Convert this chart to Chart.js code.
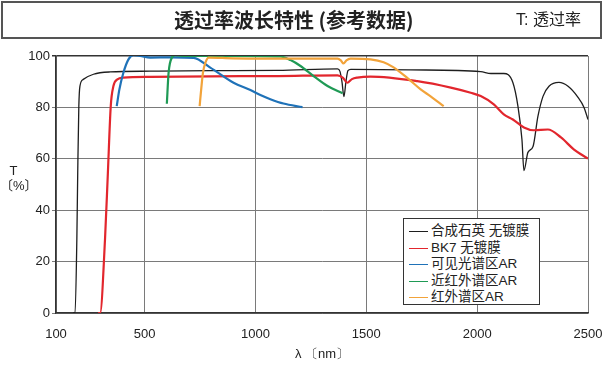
<!DOCTYPE html>
<html>
<head>
<meta charset="utf-8">
<script src="https://cdn.jsdelivr.net/npm/chart.js@4.4.1/dist/chart.umd.min.js"></script>
<style>
  body { margin: 0; background: #fff; }
  #wrap { position: relative; width: 603px; height: 366px; font-family: "Liberation Sans", "Noto Sans CJK SC", sans-serif; color: #222; }
  #titleBox { position: absolute; left: 1px; top: 1px; width: 597px; height: 34px; border: 2px solid #555; }
  #title { position: absolute; left: 171px; top: 3px; font-family: "Noto Sans CJK SC", sans-serif; font-weight: bold; font-size: 20px; line-height: 28px; color: #222; white-space: nowrap; }
  #unit { position: absolute; left: 513px; top: 5px; font-size: 16px; line-height: 24px; white-space: nowrap; }
  #yTitle { position: absolute; left: 0; top: 163px; width: 27px; text-align: center; font-size: 13px; line-height: 15px; }
  #legend { position: absolute; left: 403px; top: 218px; width: 135px; height: 85px; border: 1px solid #333; background: #fff; font-size: 13.5px; }
  .row { position: absolute; left: 0; height: 16px; line-height: 16px; white-space: nowrap; }
  .row i { position: absolute; left: 5px; top: 8px; width: 19px; height: 0; border-top: 1.5px solid; }
  .row span { position: absolute; left: 27px; top: 0; }
  canvas { position: absolute; left: 0; top: 0; }
</style>
</head>
<body>
<div id="wrap">
  <canvas id="grafico" width="603" height="366"></canvas>
  <div id="titleBox">
    <div id="title">透过率波长特性 (参考数据)</div>
    <div id="unit">T: 透过率</div>
  </div>
  <div id="yTitle">T<br>〔%〕</div>
  <div id="legend"></div>
</div>
<script>
// ejes
const xTicks = [100, 500, 1000, 1500, 2000, 2500];
const yTicks = [0, 20, 40, 60, 80, 100];

// series (longitud de onda nm / transmitancia %)
const nombres = ['合成石英 无镀膜', 'BK7 无镀膜', '可见光谱区AR', '近红外谱区AR', '红外谱区AR'];
const colores = ['#1e1e1e', '#e2262d', '#1f72b8', '#1f9a55', '#f2a33a'];

const cuarzoNm = [177, 186, 194, 198, 203, 208, 223, 269, 344, 525, 800, 1100, 1370, 1381, 1390, 1399, 1408, 1417, 1430, 1700, 2016, 2062, 2120, 2161, 2184, 2202, 2211, 2229, 2252, 2274, 2297, 2324, 2369, 2410, 2455, 2482, 2500];
const cuarzoT = [0, 0, 28.5, 54.6, 80.5, 88.3, 90.9, 92.9, 93.8, 94.1, 94.3, 94.4, 95, 94, 90, 84.2, 90, 94.3, 94.8, 94.6, 93.9, 93.2, 93.2, 89.7, 80.4, 67.5, 55.4, 62.5, 64.8, 76.5, 84.3, 88.2, 89.7, 88.2, 83.9, 80, 75.3];

const bk7Nm = [290, 299, 321, 334, 347, 359, 377, 404, 525, 800, 1100, 1370, 1395, 1414, 1435, 1459, 1519, 1730, 1881, 1971, 2016, 2075, 2120, 2161, 2211, 2256, 2319, 2378, 2437, 2500];
const bk7T = [0, 0, 28.5, 54.5, 80.5, 88.3, 90.9, 91.6, 91.9, 92.1, 92.2, 92.5, 91.5, 89.6, 91, 91.6, 92, 90.2, 87.7, 85.7, 84.4, 81.2, 77.3, 75.3, 72.2, 71.1, 71.4, 68.3, 63.6, 60.1];

const visibleNm = [374, 386, 404, 427, 449, 480, 525, 620, 721, 796, 901, 977, 1022, 1067, 1126, 1212];
const visibleT = [80.5, 87, 93.5, 98.7, 100.3, 100, 99.4, 99.5, 99.3, 95.5, 89.6, 86.8, 84.8, 83.2, 81.5, 80.1];

const nirNm = [600, 608, 623, 638, 680, 900, 1112, 1158, 1203, 1262, 1325, 1393];
const nirT = [81.4, 93.5, 99.4, 100.3, 100, 100, 99.8, 98.4, 96.1, 92.2, 88.3, 85.5];

const irNm = [748, 755, 763, 774, 789, 900, 1126, 1370, 1385, 1397, 1410, 1429, 1519, 1578, 1623, 1687, 1745, 1790, 1849];
const irT = [80.5, 87, 93.5, 97.4, 99.4, 99.1, 99, 99, 98.3, 97.1, 98.3, 99, 98.7, 97.6, 95.6, 91.3, 87, 84.3, 80.5];

const series = [
  [cuarzoNm, cuarzoT, 1.3],
  [bk7Nm, bk7T, 2.2],
  [visibleNm, visibleT, 2.2],
  [nirNm, nirT, 2.2],
  [irNm, irT, 2.2]
];

const fuente = { family: 'Liberation Sans', size: 13 };

const datasets = series.map((s, i) => ({
  label: nombres[i],
  data: s[0].map((x, j) => ({ x: x, y: s[1][j] })),
  borderColor: colores[i],
  borderWidth: s[2],
  pointRadius: 0,
  fill: false,
  cubicInterpolationMode: 'monotone',
  order: series.length - i
}));

const ctx = document.getElementById('grafico').getContext('2d');
new Chart(ctx, {
  type: 'line',
  data: { datasets: datasets },
  options: {
    responsive: false,
    animation: false,
    devicePixelRatio: 1,
    layout: { padding: { top: 56, right: 1, left: 0, bottom: 0 } },
    plugins: { legend: { display: false }, tooltip: { enabled: false } },
    scales: {
      x: {
        type: 'linear',
        min: 100,
        max: 2500,
        afterBuildTicks: scale => { scale.ticks = xTicks.map(v => ({ value: v })); },
        afterFit: scale => {
          scale.height = 53;
          scale.paddingLeft = 0;
          scale.paddingRight = 15;
        },
        grid: { color: '#7a7a7a', lineWidth: 1, drawTicks: false },
        border: { color: '#333', width: 1.5 },
        ticks: { color: '#222', font: fuente, padding: 14, maxRotation: 0, autoSkip: false, callback: v => String(v) },
        title: { display: true, text: 'λ 〔nm〕', color: '#222', font: fuente, padding: { top: 0, bottom: 4 } }
      },
      y: {
        min: 0,
        max: 100,
        afterBuildTicks: scale => { scale.ticks = yTicks.map(v => ({ value: v })); },
        afterFit: scale => { scale.width = 56; },
        grid: {
          color: c => (c.tick && c.tick.value === 100 ? '#333' : '#7a7a7a'),
          lineWidth: c => (c.tick && c.tick.value === 100 ? 1.5 : 1),
          tickLength: 4
        },
        border: { color: '#333', width: 1.5 },
        ticks: { color: '#222', font: fuente, padding: 2 }
      }
    }
  }
});

// leyenda
const legend = document.getElementById('legend');
nombres.forEach((n, i) => {
  const row = document.createElement('div');
  row.className = 'row';
  row.style.top = (4 + i * 16.5) + 'px';
  row.innerHTML = '<i style="border-color:' + colores[i] + '"></i><span>' + n + '</span>';
  legend.appendChild(row);
});
</script>
</body>
</html>
